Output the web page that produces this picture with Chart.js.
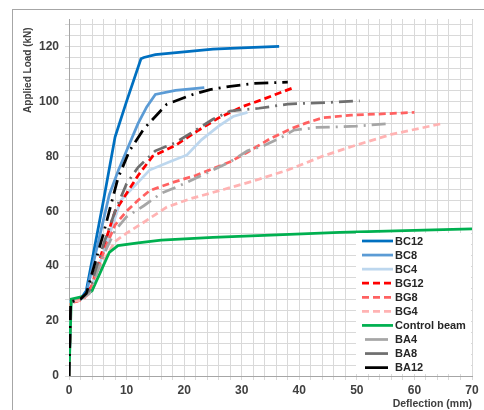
<!DOCTYPE html>
<html>
<head>
<meta charset="utf-8">
<script src="https://cdn.jsdelivr.net/npm/chart.js@4.4.0/dist/chart.umd.min.js"></script>
<style>
  body { margin: 0; background: #fff; }
  #wrap { position: relative; width: 484px; height: 410px; }
  #frame { position: absolute; left: 12px; top: 9px; width: 480px; height: 420px;
           border-left: 1px solid #a6a6a6; border-top: 1px solid #a6a6a6; }
  canvas { position: absolute; left: 0; top: 0; }
</style>
</head>
<body>
<div id="wrap">
  <div id="frame"></div>
  <canvas id="loadChart" width="484" height="410"></canvas>
</div>
<script>
// [deflection (mm), load (kN)]
var BC12 = [[0,0],[0.3,27],[2,28],[3,31],[6,64],[8,87],[10,100],[12.5,115.5],[13,116],[15,117],[20,118],[25,119],[30,119.5],[36.5,120]];
var BC8 = [[0,0],[0.3,27],[2,28],[3,30],[5,48],[7,66],[8.6,75],[10,82],[12,92],[13.5,98],[15,102.5],[18.5,104],[23.5,105]];
var BC4 = [[0,0],[0.3,27],[2,28],[3.5,30],[6,45],[9,64],[12,70.5],[14,75],[17.5,78],[20.5,80.5],[23,86],[26,91],[28.5,94.5],[31,96]];
var BG12 = [[0,0],[0.3,27],[1,27],[2.5,28],[4,33],[6,47],[8,60],[10,66.5],[12,73],[14.5,80],[18.5,84],[22.5,89.5],[26,94],[30,98],[34,101],[39,105]];
var BG8 = [[0,0],[0.3,27],[2,27.5],[3.5,30],[6,45],[8,55],[10,60],[12,64],[14,67.5],[18,70.5],[22,73],[25,75.5],[28,78],[31,81.5],[35,86.5],[38.5,90],[41,92],[44,94],[49,95],[55,95.5],[60,96]];
var BG4 = [[0,0],[0.3,27],[2,27.5],[4,31],[6,42],[8,49],[10,52],[13,56],[17,61.5],[21,64.5],[27,68],[32,71],[38,75],[44,80],[49,83.5],[56,88],[65,92]];
var CONTROL = [[0,0],[0.4,28],[2.5,29],[4,31],[5.5,38],[7,45],[8.5,47.5],[12,48.5],[16,49.5],[25,50.5],[35,51.3],[47,52.3],[60,53],[70,53.6]];
var BA4 = [[0,0],[0.3,27],[2,28],[3.5,30],[6,44],[8,53],[10,58],[13,62],[16,66.5],[20,70],[24,74],[28,78],[31,82],[34,84],[37,87],[39,89.5],[43,90.5],[50,91],[56,92]];
var BA8 = [[0,0],[0.3,27],[2,28],[3.5,31],[6,48],[8,60],[10,70],[12,76],[15,82],[18.5,85],[22,89.5],[25,93.5],[28,96.5],[33,97.5],[38,99],[46,99.7],[50.5,100.2]];
var BA12 = [[0,0],[0.3,27],[2,28],[3,30],[6,52],[8.5,72],[10.5,82],[13,90],[15,94.5],[17,99],[21.5,102.5],[24.5,104.3],[28,105.5],[32,106.5],[38,107]];

var seriesNames = ['BC12', 'BC8', 'BC4', 'BG12', 'BG8', 'BG4', 'Control beam', 'BA4', 'BA8', 'BA12'];
var seriesData = [BC12, BC8, BC4, BG12, BG8, BG4, CONTROL, BA4, BA8, BA12];
var xTickLabels = [0, 10, 20, 30, 40, 50, 60, 70];
var yTickLabels = [0, 20, 40, 60, 80, 100, 120];

var colors = ['#0070C0', '#5B9BD5', '#BDD7EE', '#FF0000', '#FF6161', '#FFB3B3', '#00B050', '#A6A6A6', '#6F6F6F', '#000000'];
var dashes = [[], [], [], [7, 4], [7, 4], [7, 4], [], [14, 6, 2, 6], [14, 6, 2, 6], [14, 6, 2, 6]];

var datasets = seriesData.map(function (pts, i) {
    return {
        label: seriesNames[i],
        data: pts.map(function (p) { return { x: p[0], y: p[1] }; }),
        borderColor: colors[i],
        backgroundColor: colors[i],
        borderDash: dashes[i],
        borderWidth: 2.75,
        pointRadius: 0,
        tension: 0,
        fill: false,
        order: seriesNames.length - i
    };
});

// legend drawn inside the plot, lower right
var insideLegend = {
    id: 'insideLegend',
    afterDraw: function (chart) {
        var ctx = chart.ctx;
        var x0 = 362, y0 = 241, rowH = 14.07;
        ctx.save();
        ctx.fillStyle = '#ffffff';
        ctx.fillRect(356, 233, 115, 141);
        chart.data.datasets.forEach(function (ds, i) {
            var y = y0 + i * rowH;
            ctx.strokeStyle = ds.borderColor;
            ctx.lineWidth = 2.75;
            ctx.beginPath();
            if (ds.borderDash.length === 4) {
                ctx.setLineDash([]);
                ctx.moveTo(x0 + 3, y);
                ctx.lineTo(x0 + 26, y);
            } else {
                ctx.setLineDash(ds.borderDash);
                ctx.moveTo(x0, y);
                ctx.lineTo(x0 + 31, y);
            }
            ctx.stroke();
            ctx.setLineDash([]);
            ctx.fillStyle = '#262626';
            ctx.font = 'bold 11px "Liberation Sans", Arial, sans-serif';
            ctx.textBaseline = 'middle';
            ctx.textAlign = 'left';
            ctx.fillText(ds.label, x0 + 33, y + 0.5);
        });
        ctx.restore();
    }
};

var ctx = document.getElementById('loadChart').getContext('2d');
var chart = new Chart(ctx, {
    type: 'line',
    data: { datasets: datasets },
    plugins: [insideLegend],
    options: {
        responsive: false,
        animation: false,
        devicePixelRatio: 1,
        layout: { padding: { top: 19, right: 12, left: 0, bottom: 0 } },
        plugins: {
            legend: { display: false },
            tooltip: { enabled: false }
        },
        scales: {
            x: {
                type: 'linear',
                min: 0,
                max: 70,
                afterFit: function (s) { s.height = 34; },
                grid: { color: '#d9d9d9', tickLength: 4 },
                border: { color: '#a6a6a6' },
                ticks: {
                    stepSize: 2,
                    padding: 3,
                    maxRotation: 0,
                    autoSkip: false,
                    color: '#404040',
                    font: { family: '"Liberation Sans", Arial, sans-serif', size: 12, weight: 'bold' },
                    callback: function (v) { return xTickLabels.indexOf(v) >= 0 ? v : ''; }
                },
                title: {
                    display: true,
                    text: 'Deflection (mm)',
                    align: 'end',
                    color: '#404040',
                    padding: { top: 0, bottom: 0 },
                    font: { family: '"Liberation Sans", Arial, sans-serif', size: 10.5, weight: 'bold' }
                }
            },
            y: {
                min: 0,
                max: 130,
                afterFit: function (s) { s.width = 69; },
                grid: { color: '#d9d9d9', tickLength: 4 },
                border: { color: '#a6a6a6' },
                ticks: {
                    stepSize: 4,
                    includeBounds: false,
                    padding: 6,
                    autoSkip: false,
                    color: '#404040',
                    font: { family: '"Liberation Sans", Arial, sans-serif', size: 12, weight: 'bold' },
                    callback: function (v) { return yTickLabels.indexOf(v) >= 0 ? v : ''; }
                },
                title: {
                    display: true,
                    text: 'Applied Load (kN)   ',
                    align: 'end',
                    color: '#404040',
                    padding: { top: 22, bottom: 0 },
                    font: { family: '"Liberation Sans", Arial, sans-serif', size: 10, weight: 'bold' }
                }
            }
        }
    }
});
</script>
</body>
</html>
